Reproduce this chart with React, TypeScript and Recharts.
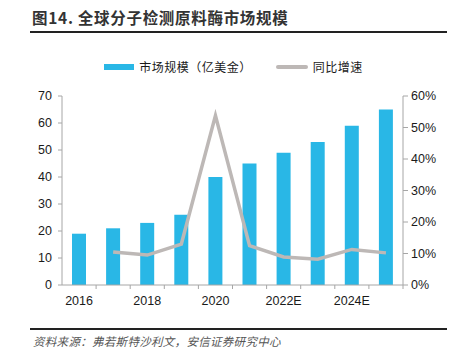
import { ComposedChart, Bar, Line, XAxis, YAxis } from 'recharts'

const years = ['2016', '2017', '2018', '2019', '2020', '2021', '2022E', '2023E', '2024E', '2025E']
const marketSize = [19, 21, 23, 26, 40, 45, 49, 53, 59, 65]
const growth = [null, 0.105, 0.095, 0.13, 0.538, 0.125, 0.089, 0.082, 0.113, 0.102]
const leftTicks = [0, 10, 20, 30, 40, 50, 60, 70]
const rightTicks = [0, 0.1, 0.2, 0.3, 0.4, 0.5, 0.6]

const BAR = '#29B7E6'
const LINE = '#BDB8B6'
const AXIS = '#A6A6A6'
const TEXT = '#1a1a1a'
const CJK = '"Noto Sans CJK SC", "Liberation Sans", sans-serif'

const data = years.map((y, i) => ({ year: y, size: marketSize[i], growth: growth[i] }))

// category axis: tick marks sit on band edges, labels every other year
function XTick(props: any) {
  const { x, y, payload, index, width, visibleTicksCount } = props
  const half = payload?.offset || (width && visibleTicksCount ? width / visibleTicksCount / 2 : 17)
  const last = index === visibleTicksCount - 1
  return (
    <g>
      {index > 0 && <line x1={x - half} x2={x - half} y1={y} y2={y + 4} stroke={AXIS} />}
      {last && <line x1={x + half} x2={x + half} y1={y} y2={y + 4} stroke={AXIS} />}
      {index % 2 === 0 && (
        <text x={x} y={y + 20} textAnchor="middle" fill={TEXT} fontSize={12.5} fontFamily="Liberation Sans, Arial, sans-serif">
          {payload.value}
        </text>
      )}
    </g>
  )
}

export default function App() {
  return (
    <div style={{ position: 'absolute', left: 0, top: 0, width: 455, height: 355, background: '#fff' }}>
      <div style={{ position: 'absolute', left: 32, top: 6, fontFamily: CJK, fontWeight: 700, fontSize: 15.5, color: '#333', letterSpacing: 0.7 }}>
        图14. 全球分子检测原料酶市场规模
      </div>
      <div style={{ position: 'absolute', left: 30, top: 31, width: 417, height: 1.5, background: '#222' }} />

      <div style={{ position: 'absolute', left: 0, top: 58, width: 455, boxSizing: 'border-box', paddingLeft: 12, display: 'flex', justifyContent: 'center', alignItems: 'center', fontFamily: CJK, fontSize: 12, letterSpacing: 0.5, color: TEXT }}>
        <span style={{ display: 'inline-block', width: 30, height: 6, background: BAR, marginRight: 5 }} />
        <span>市场规模（亿美金）</span>
        <span style={{ display: 'inline-block', width: 32, height: 4, borderRadius: 2, background: LINE, marginLeft: 24, marginRight: 5 }} />
        <span>同比增速</span>
      </div>

      <ComposedChart width={455} height={355} data={data} margin={{ top: 96, right: 0, bottom: 40, left: 0 }}>
        <XAxis
          dataKey="year"
          interval={0}
          tick={<XTick />}
          tickLine={false}
          tickSize={0}
          tickMargin={0}
          axisLine={{ stroke: AXIS }}
          height={30}
        />
        <YAxis
          yAxisId="left"
          domain={[0, 70]}
          ticks={leftTicks}
          width={62}
          tickSize={4}
          tickMargin={6}
          axisLine={{ stroke: AXIS }}
          tickLine={{ stroke: AXIS }}
          tick={{ fill: TEXT, fontSize: 12.5, fontFamily: 'Liberation Sans, Arial, sans-serif' }}
        />
        <YAxis
          yAxisId="right"
          orientation="right"
          domain={[0, 0.6]}
          ticks={rightTicks}
          width={52}
          tickSize={5}
          tickMargin={3}
          tickFormatter={(v) => `${Math.round(v * 100)}%`}
          axisLine={{ stroke: AXIS }}
          tickLine={{ stroke: AXIS }}
          tick={{ fill: TEXT, fontSize: 12.5, fontFamily: 'Liberation Sans, Arial, sans-serif' }}
        />
        <Bar yAxisId="left" dataKey="size" fill={BAR} barSize={14} isAnimationActive={false} />
        <Line
          yAxisId="right"
          dataKey="growth"
          stroke={LINE}
          strokeWidth={3.5}
          dot={false}
          activeDot={false}
          connectNulls={false}
          isAnimationActive={false}
        />
      </ComposedChart>

      <div style={{ position: 'absolute', left: 30, top: 328, width: 417, height: 1.5, background: '#222' }} />
      <div style={{ position: 'absolute', left: 33, top: 333, fontFamily: CJK, fontStyle: 'italic', fontSize: 11.5, letterSpacing: 0.3, color: '#555' }}>
        资料来源：弗若斯特沙利文，安信证券研究中心
      </div>
    </div>
  )
}
